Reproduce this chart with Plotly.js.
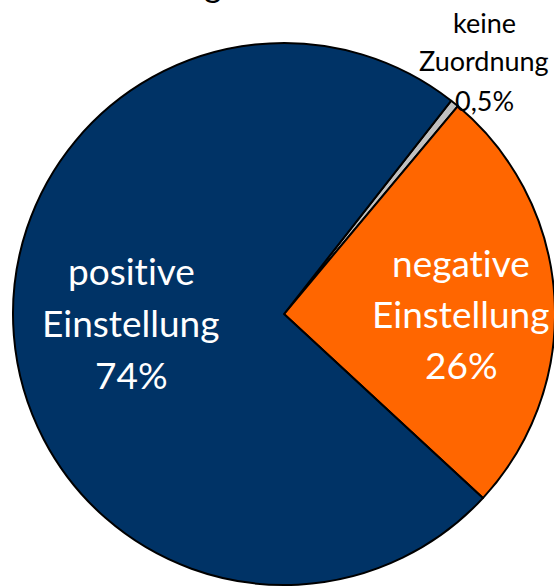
<!DOCTYPE html>
<html>
<head>
<meta charset="utf-8">
<script src="https://cdn.plot.ly/plotly-3.0.1.min.js"></script>
<style>
  html, body { margin: 0; padding: 0; overflow: hidden; background: #fff; }
</style>
</head>
<body>
<div id="myPlot"></div>
<script>
var labels = ["keine Zuordnung", "negative Einstellung", "positive Einstellung"];
var values = [0.5, 25.8, 73.7];
var pctText = ["0,5%", "26%", "74%"];
var sliceColors = ["#c0c0c0", "#ff6600", "#003366"];

// label lines for each slice (\u200C keeps Lato from joining "ti")
var labelLines = [
  ["keine", "Zuordnung", pctText[0]],
  ["negat\u200Cive", "Einstellung", pctText[1]],
  ["posit\u200Cive", "Einstellung", pctText[2]]
];

var W = 560, H = 587;
function px(x) { return x / W; }
function py(y) { return 1 - y / H; }

// where each label block sits (center x, first line y, line step, size, color)
var spots = [
  {x: 484, y: 22, step: 39, size: 27, color: "#000000"},
  {x: 461, y: 262, step: 51, size: 37, color: "#ffffff"},
  {x: 131, y: 270, step: 52, size: 37, color: "#ffffff"}
];

var annotations = [];
labelLines.forEach(function (lines, i) {
  lines.forEach(function (t, j) {
    annotations.push({
      text: t, showarrow: false,
      xref: "paper", yref: "paper",
      x: px(spots[i].x), y: py(spots[i].y + j * spots[i].step),
      xanchor: "center", yanchor: "middle",
      font: {family: "Lato, sans-serif", size: spots[i].size, color: spots[i].color}
    });
  });
});

// piece of the cut-off title
annotations.push({
  text: "g", showarrow: false, xref: "paper", yref: "paper",
  x: px(213), y: py(6), xanchor: "center", yanchor: "bottom",
  font: {family: "Lato, sans-serif", size: 34, color: "#000"}
});

var data = [{
  type: "pie",
  labels: labels,
  values: values,
  sort: false,
  direction: "clockwise",
  rotation: 38.1,
  textinfo: "none",
  hoverinfo: "label+percent",
  marker: {colors: sliceColors, line: {color: "#000000", width: 2}},
  domain: {x: [13 / W, 555 / W], y: [2 / H, 544 / H]}
}];

var layout = {
  width: W, height: H,
  margin: {l: 0, r: 0, t: 0, b: 0},
  showlegend: false,
  paper_bgcolor: "#ffffff",
  annotations: annotations
};

Plotly.newPlot("myPlot", data, layout, {displayModeBar: false, staticPlot: true});
</script>
</body>
</html>
